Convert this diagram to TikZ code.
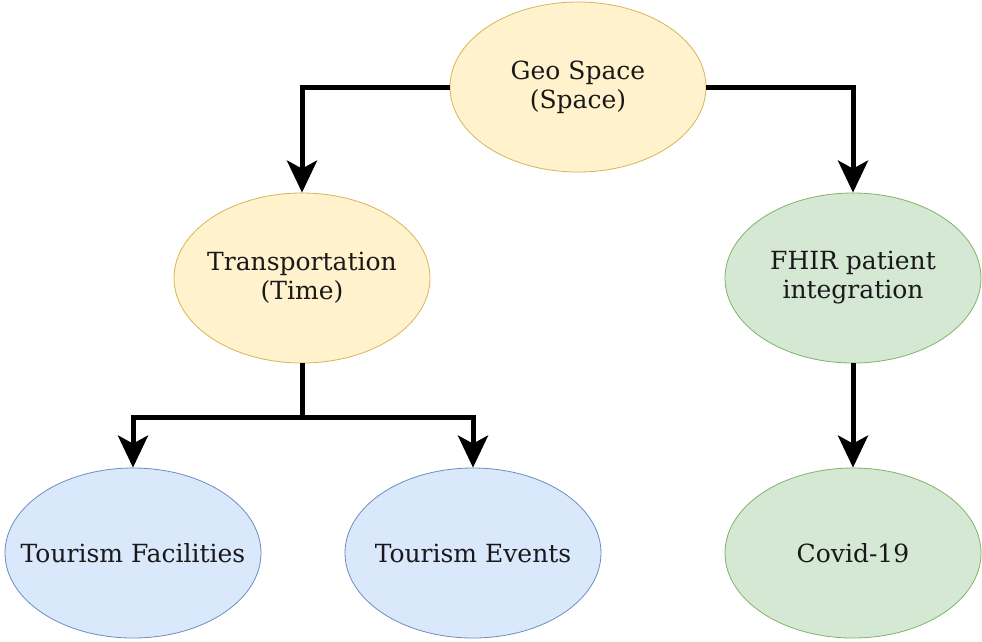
\documentclass[tikz,border=0pt]{standalone}
\usepackage{fontspec}
\setmainfont{DejaVu Serif}
\usepackage{tikz}
\usetikzlibrary{shapes.geometric,arrows.meta}

\definecolor{ylwfill}{HTML}{FFF2CC}
\definecolor{ylwdraw}{HTML}{D6B656}
\definecolor{grnfill}{HTML}{D5E8D4}
\definecolor{grndraw}{HTML}{82B366}
\definecolor{blufill}{HTML}{DAE8FC}
\definecolor{bludraw}{HTML}{6C8EBF}

\tikzset{
	topic/.style={ellipse, minimum width=256pt, minimum height=170pt, inner xsep=-40pt, inner ysep=0pt,
		align=center, line width=0.8pt, font=\fontsize{25}{29}\selectfont, text=black!90},
	ylw/.style={topic, fill=ylwfill, draw=ylwdraw},
	grn/.style={topic, fill=grnfill, draw=grndraw},
	blu/.style={topic, fill=blufill, draw=bludraw},
	link/.style={line width=5pt, black},
	flow/.style={link, -{Stealth[length=32pt, width=30pt, inset=8pt]}}
}

\begin{document}
\begin{tikzpicture}[x=1pt, y=-1pt]
	\useasboundingbox (0,0) rectangle (982,641);
	\node [ylw] (geo) at (578,87) {Geo Space\\(Space)};
	\node [ylw] (trans) at (302,278) {Transportation\\(Time)};
	\node [grn] (fhir) at (853,278) {FHIR patient\\integration};
	\node [blu] (facil) at (133,553) {Tourism Facilities};
	\node [blu] (events) at (473,553) {Tourism Events};
	\node [grn] (covid) at (853,553) {Covid-19};
	\coordinate (split) at (302,417);
	% connectors
	\draw [flow] (geo.west) -| (trans.north);
	\draw [flow] (geo.east) -| (fhir.north);
	\draw [link] (trans.south) -- (split);
	\draw [flow] (split) -| (facil.north);
	\draw [flow] (split) -| (events.north);
	\draw [flow] (fhir.south) -- (covid.north);
\end{tikzpicture}
\end{document}
